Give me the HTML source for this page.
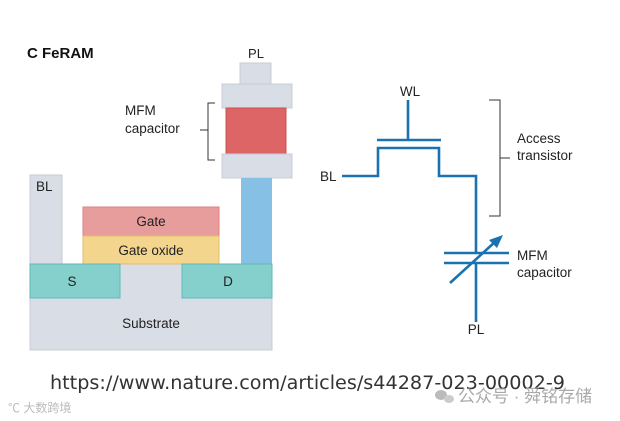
<!DOCTYPE html>
<html><head><meta charset="utf-8"><style>
html,body{margin:0;padding:0;background:#fff;width:620px;height:421px;overflow:hidden}
svg{display:block;font-family:"Liberation Sans",Arial,sans-serif}
</style></head><body>
<svg width="620" height="421" viewBox="0 0 620 421">
<text x="27" y="58" font-size="15" font-weight="bold" fill="#111">C  FeRAM</text>
<text x="256" y="58" font-size="13" text-anchor="middle" fill="#222">PL</text>
<rect x="240" y="63" width="31" height="21" fill="#d9dde5" stroke="#c8ccd6"/>
<rect x="222" y="84" width="70" height="24" fill="#d9dde5" stroke="#c8ccd6"/>
<rect x="226" y="108" width="60" height="47" fill="#dd6565" stroke="#c85050"/>
<rect x="222" y="154" width="70" height="24" fill="#d9dde5" stroke="#c8ccd6"/>
<rect x="241" y="178" width="31" height="86" fill="#86c1e5"/>
<path d="M215 103 H208 V160 H215 M208 130 H200" fill="none" stroke="#333" stroke-width="1"/>
<text x="125" y="115" font-size="13.5" fill="#222">MFM</text>
<text x="125" y="133" font-size="13.5" fill="#222">capacitor</text>
<rect x="30" y="175" width="32" height="89" fill="#d9dde5" stroke="#c8ccd6"/>
<text x="36" y="191" font-size="13.5" fill="#222">BL</text>
<rect x="30" y="264" width="242" height="86" fill="#d9dde5" stroke="#c8ccd6"/>
<rect x="83" y="207" width="136" height="29" fill="#e89d9d" stroke="#e08080"/>
<rect x="83" y="236" width="136" height="28" fill="#f3d58e" stroke="#e2bd6a"/>
<text x="151" y="226" font-size="13.5" text-anchor="middle" fill="#222">Gate</text>
<text x="151" y="255" font-size="13.5" text-anchor="middle" fill="#222">Gate oxide</text>
<rect x="30" y="264" width="90" height="34" fill="#85d0cc" stroke="#5fbab5"/>
<rect x="182" y="264" width="90" height="34" fill="#85d0cc" stroke="#5fbab5"/>
<text x="72" y="286" font-size="13.5" text-anchor="middle" fill="#222">S</text>
<text x="228" y="286" font-size="13.5" text-anchor="middle" fill="#222">D</text>
<text x="151" y="328" font-size="13.5" text-anchor="middle" fill="#222">Substrate</text>
<g fill="none" stroke="#1a73b0" stroke-width="2.6">
<path d="M408 100 V140 M377 140 H441"/>
<path d="M342 176 H378 V148 H439 V176 H476 V253"/>
<path d="M444 253 H509 M444 263 H509 M476 263 V322"/>
<path d="M450 283 L496 241"/>
</g>
<polygon points="503,235 489,240 497,248" fill="#1a73b0"/>
<text x="410" y="96" font-size="13.5" text-anchor="middle" fill="#222">WL</text>
<text x="320" y="181" font-size="13.5" fill="#222">BL</text>
<text x="476" y="334" font-size="13.5" text-anchor="middle" fill="#222">PL</text>
<path d="M489 100 H500 V216 H489 M500 158 H510" fill="none" stroke="#333" stroke-width="1"/>
<text x="517" y="143" font-size="13.5" fill="#222">Access</text>
<text x="517" y="160" font-size="13.5" fill="#222">transistor</text>
<text x="517" y="260" font-size="13.5" fill="#222">MFM</text>
<text x="517" y="277" font-size="13.5" fill="#222">capacitor</text>
<text x="50" y="389" font-size="18.5" fill="#333" font-family="DejaVu Sans,sans-serif" textLength="515" lengthAdjust="spacingAndGlyphs">https://www.nature.com/articles/s44287-023-00002-9</text>
<text x="458" y="402" font-size="17" fill="#aaa" font-family="Liberation Sans,'Noto Sans CJK SC',sans-serif">公众号 · 舜铭存储</text>
<ellipse cx="441" cy="395" rx="6" ry="5" fill="#bbb"/><ellipse cx="449" cy="399" rx="5" ry="4" fill="#ccc"/>
<text x="8" y="412" font-size="12" fill="#bbb" font-family="Liberation Sans,'Noto Sans CJK SC',sans-serif">℃ 大数跨境</text>
</svg>
</body></html>
